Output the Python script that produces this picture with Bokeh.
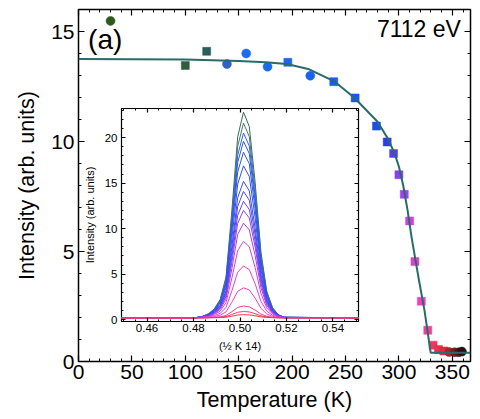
from bokeh.plotting import figure
from bokeh.models import (Range1d, LinearAxis, SingleIntervalTicker, Label,
                          CustomJSTickFormatter, PrintfTickFormatter)
from bokeh.layouts import column
from bokeh.embed import file_html
from bokeh.resources import INLINE

FONT = "Liberation Sans"

# ---------------- main data ----------------
temps = [30, 100, 120, 139, 157, 177, 196, 217, 239, 259, 279, 289, 295, 300,
         305, 310, 315, 321, 327, 332, 337, 342, 347, 352, 356, 359]
intens = [15.48, 13.46, 14.10, 13.52, 14.00, 13.40, 13.60, 12.99, 12.72, 11.98,
          10.70, 9.98, 9.46, 8.49, 7.60, 6.39, 4.54, 2.74, 1.42, 0.74, 0.55,
          0.48, 0.43, 0.42, 0.42, 0.45]
markers = ["circle", "square", "square", "circle", "circle", "circle", "square",
           "circle", "square", "square", "square", "square", "square", "square",
           "square", "square", "square", "square", "square", "square", "square",
           "square", "circle", "circle", "circle", "circle"]
colors = ["#2b5a1a", "#2e5e3c", "#2a5e5a", "#2e62c8", "#1a6cf0", "#1a6af0",
          "#1a66f0", "#1a62f0", "#1a5ef0", "#1a58f0", "#1a4cf0", "#2a3ef0",
          "#5a3cf0", "#8a40f0", "#a040f0", "#d040e0", "#e040d0", "#f040c0",
          "#f04098", "#f03860", "#ec3050", "#d83040", "#a02828", "#702020",
          "#501818", "#281010"]

fit_T = [0, 100, 150, 175, 195, 215, 240, 258, 270, 280, 290, 296, 300, 304,
         308, 312, 318, 324, 329.7, 367]
fit_I = [13.75, 13.73, 13.66, 13.60, 13.52, 13.30, 12.72, 12.00, 11.40, 10.90,
         10.10, 9.45, 8.85, 8.00, 6.90, 5.60, 3.90, 2.30, 0.40, 0.40]

x_title = "Temperature (K)"
y_title = "Intensity (arb. units)"

# ---------------- inset data ----------------
q_pos = [0.449, 0.479, 0.4815, 0.484, 0.4865, 0.489, 0.4915, 0.494, 0.4965,
         0.499, 0.5015, 0.504, 0.5065, 0.509, 0.5115, 0.514, 0.5165, 0.519, 0.551]
peak_shape = [0, 0, 0.002, 0.008, 0.02, 0.045, 0.09, 0.2, 0.52, 0.88, 1.0,
              0.93, 0.66, 0.32, 0.13, 0.05, 0.015, 0.003, 0]
peak_heights = [22.6, 21.4, 20.3, 19.4, 18.2, 16.7, 15.0, 13.9, 12.8, 11.8,
                10.4, 8.4, 5.7, 3.3, 1.3, 0.7, 0.35]
background = 0.2
scan_colors = ["#3c6a50", "#4a7868", "#2f5ff0", "#2a5af0", "#2a55f0", "#3050ec",
               "#3a4aea", "#5044e8", "#6a42ec", "#8a40ee", "#a840ea", "#c840e4",
               "#e040d4", "#f040b8", "#f0408c", "#f03c6c", "#f03848"]


def style_axis(ax, size, interval, minor, big, show_labels=True):
    ax.ticker = SingleIntervalTicker(interval=interval, num_minor_ticks=minor)
    ax.axis_line_color = None
    ax.major_tick_in = 6 if big else 4
    ax.major_tick_out = 0
    ax.minor_tick_in = 3 if big else 2
    ax.minor_tick_out = 0
    ax.major_tick_line_color = "black"
    ax.minor_tick_line_color = "black"
    ax.major_tick_line_width = 1.2
    ax.major_label_text_font = FONT
    ax.axis_label_text_font = FONT
    ax.axis_label_text_font_style = "normal"
    ax.major_label_text_color = "black"
    ax.axis_label_text_color = "black"
    ax.major_label_text_font_size = size
    if not show_labels:
        ax.formatter = CustomJSTickFormatter(code="return ''")
        ax.major_label_standoff = 0
        ax.axis_label = None


# ---------------- main figure ----------------
p = figure(width=480, height=419, x_range=Range1d(0, 367), y_range=Range1d(0, 16),
           output_backend="svg", toolbar_location=None,
           min_border_left=78, min_border_right=10, min_border_top=9,
           min_border_bottom=58)
p.xgrid.visible = False
p.ygrid.visible = False
p.outline_line_color = "black"
p.outline_line_width = 1.5
p.background_fill_color = "white"

style_axis(p.xaxis[0], "21px", 50, 5, True)
style_axis(p.yaxis[0], "21px", 5, 5, True)
p.xaxis.axis_label = x_title
p.yaxis.axis_label = y_title
p.xaxis.axis_label_text_font_size = "21.5px"
p.yaxis.axis_label_text_font_size = "21.5px"
p.xaxis.major_label_standoff = 3
p.xaxis.axis_label_standoff = 6
p.yaxis.major_label_standoff = 4
p.yaxis.axis_label_standoff = 9

top_ax = LinearAxis()
style_axis(top_ax, "10px", 50, 5, True, show_labels=False)
p.add_layout(top_ax, "above")
right_ax = LinearAxis()
style_axis(right_ax, "10px", 5, 5, True, show_labels=False)
p.add_layout(right_ax, "right")

for t, i, m, c in zip(temps, intens, markers, colors):
    p.scatter([t], [i], marker=m, size=9 if m == "circle" else 8,
              fill_color=c, line_color=c, line_width=0.5)

p.line(fit_T, fit_I, line_color="#2a6a6a", line_width=2)

p.add_layout(Label(x=9, y=14.65, text="(a)", text_font=FONT, text_font_size="28px",
                   text_baseline="middle", text_align="left", text_color="black"))
p.add_layout(Label(x=358, y=15.1, text="7112 eV", text_font=FONT,
                   text_font_size="23px", text_baseline="middle", text_align="right",
                   text_color="black"))

# ---------------- inset figure ----------------
# borders match the main figure (the column aligns them); outer area transparent
ins = figure(width=325, height=253, x_range=Range1d(0.449, 0.551),
             y_range=Range1d(-0.2, 23.2), output_backend="svg",
             toolbar_location=None, min_border_left=78, min_border_right=10,
             min_border_top=5, min_border_bottom=35)
ins.xgrid.visible = False
ins.ygrid.visible = False
ins.outline_line_color = "black"
ins.outline_line_width = 1.2
ins.border_fill_alpha = 0
ins.background_fill_color = "white"

style_axis(ins.xaxis[0], "11.5px", 0.02, 4, False)
style_axis(ins.yaxis[0], "11.5px", 5, 5, False)
ins.xaxis.formatter = PrintfTickFormatter(format="%.2f")
ins.xaxis.axis_label = "(½ K 14)"
ins.yaxis.axis_label = "Intensity (arb. units)"
ins.xaxis.axis_label_text_font_size = "11px"
ins.yaxis.axis_label_text_font_size = "11px"
ins.xaxis.major_label_standoff = 2
ins.xaxis.axis_label_standoff = 5
ins.yaxis.major_label_standoff = 4
ins.yaxis.axis_label_standoff = 6

itop = LinearAxis()
style_axis(itop, "8px", 0.02, 4, False, show_labels=False)
ins.add_layout(itop, "above")
iright = LinearAxis()
style_axis(iright, "8px", 5, 5, False, show_labels=False)
ins.add_layout(iright, "right")

for h, c in zip(peak_heights, scan_colors):
    ys = [background + h * s for s in peak_shape]
    ins.line(q_pos, ys, line_color=c, line_width=1)

ins.styles = {"position": "absolute", "left": "43px", "top": "103px", "z-index": "2"}

layout = column(p, ins)
open("out.html", "w").write(file_html(layout, INLINE))
